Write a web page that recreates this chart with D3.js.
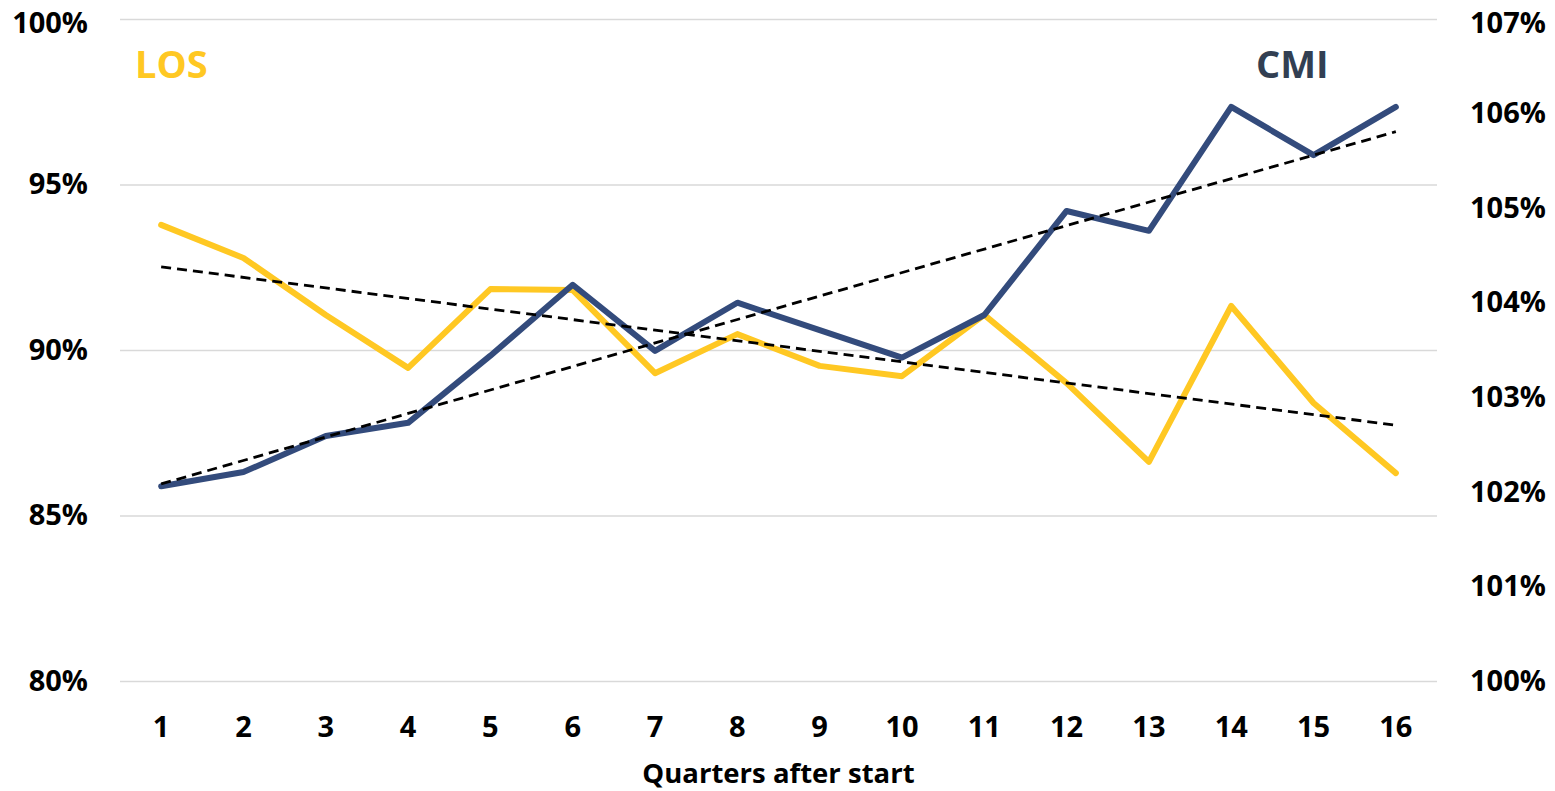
<!DOCTYPE html>
<html>
<head>
<meta charset="utf-8">
<script src="https://cdn.jsdelivr.net/npm/d3@7"></script>
<style>
  html, body { margin: 0; padding: 0; background: #fff; }
  svg { display: block; font-family: "Open Sans", "Liberation Sans", sans-serif; }
</style>
</head>
<body>
<svg id="chart" width="1555" height="791"></svg>
<script>
// Quarters after start
const quarters = [1, 2, 3, 4, 5, 6, 7, 8, 9, 10, 11, 12, 13, 14, 15, 16];
// Length of stay index (left axis)
const losValues = [93.78, 92.78, 91.06, 89.46, 91.84, 91.81, 89.30, 90.48, 89.52, 89.21, 91.06, 89.00, 86.62, 91.33, 88.40, 86.28];
// Case mix index (right axis)
const cmiValues = [102.06, 102.21, 102.59, 102.73, 103.44, 104.19, 103.49, 104.00, 103.71, 103.42, 103.87, 104.97, 104.76, 106.07, 105.56, 106.07];
// Axis ticks
const leftTicks = [80, 85, 90, 95, 100];
const rightTicks = [100, 101, 102, 103, 104, 105, 106, 107];

const svg = d3.select("#chart");
const plot = { left: 120, right: 1437, top: 19, bottom: 681 };

const x = d3.scaleBand().domain(quarters).range([plot.left, plot.right]);
const xc = q => x(q) + x.bandwidth() / 2;
const yL = d3.scaleLinear().domain([80, 100]).range([plot.bottom, plot.top]);
const yR = d3.scaleLinear().domain([100, 107]).range([plot.bottom, plot.top]);

const tickFont = g => g.selectAll("text")
  .attr("font-size", 29).attr("font-weight", 700).attr("fill", "#000")
  .attr("font-family", "'Open Sans', sans-serif");

// Keep the topmost tick label fully inside the canvas
const nudgeTop = (g, topValue) => g.selectAll(".tick")
  .filter(d => d === topValue)
  .select("text").attr("dy", "0.45em");

// Gridlines
svg.append("g")
  .attr("transform", `translate(${plot.left},0)`)
  .call(d3.axisLeft(yL).tickValues(leftTicks).tickSize(-(plot.right - plot.left)).tickFormat(""))
  .call(g => g.select(".domain").remove())
  .call(g => g.selectAll("line").attr("stroke", "#d9d9d9").attr("stroke-width", 1.3));

// Left axis labels
svg.append("g")
  .attr("transform", `translate(${plot.left},0)`)
  .call(d3.axisLeft(yL).tickValues(leftTicks).tickSize(0).tickPadding(32).tickFormat(d => d + "%"))
  .call(g => g.select(".domain").remove())
  .call(tickFont)
  .call(g => nudgeTop(g, 100));

// Right axis labels
svg.append("g")
  .attr("transform", `translate(${plot.right},0)`)
  .call(d3.axisRight(yR).tickValues(rightTicks).tickSize(0).tickPadding(33).tickFormat(d => d + "%"))
  .call(g => g.select(".domain").remove())
  .call(tickFont)
  .call(g => nudgeTop(g, 107));

// Bottom axis labels
svg.append("g")
  .attr("transform", `translate(0,${plot.bottom})`)
  .call(d3.axisBottom(x).tickSize(0).tickPadding(35))
  .call(g => g.select(".domain").remove())
  .call(tickFont);

// Axis title
svg.append("text")
  .attr("x", (plot.left + plot.right) / 2)
  .attr("y", 783)
  .attr("text-anchor", "middle")
  .attr("font-size", 27.5)
  .attr("font-weight", 700)
  .attr("fill", "#000")
  .text("Quarters after start");

// Series lines
const losLine = d3.line().x((d, i) => xc(quarters[i])).y(d => yL(d));
const cmiLine = d3.line().x((d, i) => xc(quarters[i])).y(d => yR(d));

svg.append("path")
  .datum(losValues)
  .attr("d", losLine)
  .attr("fill", "none")
  .attr("stroke", "#FFC823")
  .attr("stroke-width", 6)
  .attr("stroke-linejoin", "round")
  .attr("stroke-linecap", "round");

svg.append("path")
  .datum(cmiValues)
  .attr("d", cmiLine)
  .attr("fill", "none")
  .attr("stroke", "#334B7C")
  .attr("stroke-width", 6)
  .attr("stroke-linejoin", "round")
  .attr("stroke-linecap", "round");

// Least-squares trendlines
function linearFit(xs, ys) {
  const mx = d3.mean(xs), my = d3.mean(ys);
  let num = 0, den = 0;
  xs.forEach((xv, i) => { num += (xv - mx) * (ys[i] - my); den += (xv - mx) ** 2; });
  const slope = num / den;
  return xv => my + slope * (xv - mx);
}
const losFit = linearFit(quarters, losValues);
const cmiFit = linearFit(quarters, cmiValues);
const ends = [quarters[0], quarters[quarters.length - 1]];

svg.append("line")
  .attr("x1", xc(ends[0])).attr("y1", yL(losFit(ends[0])))
  .attr("x2", xc(ends[1])).attr("y2", yL(losFit(ends[1])))
  .attr("stroke", "#000").attr("stroke-width", 2.8).attr("stroke-dasharray", "10,6");

svg.append("line")
  .attr("x1", xc(ends[0])).attr("y1", yR(cmiFit(ends[0])))
  .attr("x2", xc(ends[1])).attr("y2", yR(cmiFit(ends[1])))
  .attr("stroke", "#000").attr("stroke-width", 2.8).attr("stroke-dasharray", "10,6");

// Series labels
svg.append("text")
  .attr("x", 135).attr("y", 78)
  .attr("font-size", 38).attr("font-weight", 700)
  .attr("fill", "#FFC823")
  .text("LOS");

svg.append("text")
  .attr("x", 1256).attr("y", 78)
  .attr("font-size", 38).attr("font-weight", 700)
  .attr("fill", "#323F52")
  .text("CMI");
</script>
</body>
</html>
